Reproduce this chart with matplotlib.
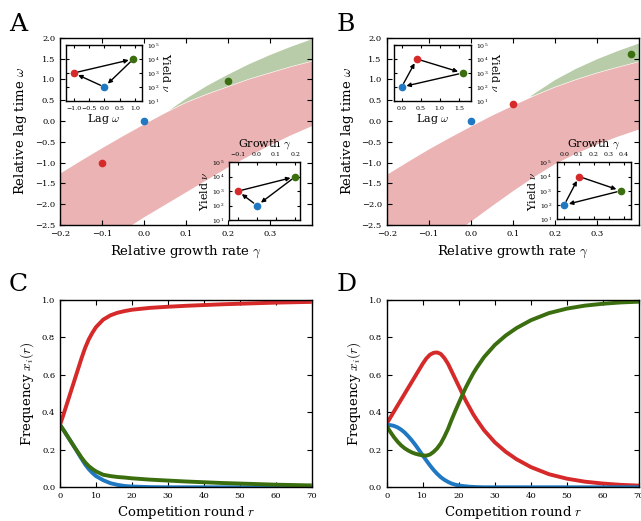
import numpy as np
import matplotlib
matplotlib.use('Agg')
import matplotlib.pyplot as plt

plt.rcParams['font.family'] = 'DejaVu Serif'
plt.rcParams['mathtext.fontset'] = 'cm'
plt.rcParams['xtick.direction'] = 'in'
plt.rcParams['ytick.direction'] = 'in'
plt.rcParams['xtick.top'] = True
plt.rcParams['ytick.right'] = True
plt.rcParams['axes.linewidth'] = 1.0

RED = '#d62a2a'
BLUE = '#1f78c1'
GREEN = '#3b6e0f'
PINK_FILL = '#ebb3b3'
GREEN_FILL = '#b9cca9'

# ---- panel A data ----
a_gamma = [-0.1, 0.0, 0.2]          # red, blue, green
a_omega = [-1.0, 0.0, 0.95]
a_yield = [1e3, 1e2, 1e4]

a_band_x = [-0.2, -0.15, -0.1, -0.05, 0.0, 0.05, 0.1, 0.15, 0.2, 0.25, 0.3, 0.35, 0.4]
a_band_top = [-1.25, -0.94, -0.64, -0.35, -0.07, 0.2, 0.45, 0.65, 0.83, 1.01, 1.16, 1.31, 1.44]
a_band_bot = [-3.6, -3.3, -2.95, -2.62, -2.3, -2.0, -1.7, -1.4, -1.1, -0.83, -0.57, -0.33, -0.11]
a_green_x = [0.06, 0.1, 0.15, 0.2, 0.25, 0.3, 0.35, 0.4]
a_green_top = [0.25, 0.53, 0.84, 1.11, 1.36, 1.58, 1.78, 1.96]

# ---- panel B data ----
b_gamma = [0.1, 0.0, 0.38]
b_omega = [0.4, 0.0, 1.6]
b_yield = [1e4, 1e2, 1e3]

b_band_x = [-0.2, -0.15, -0.1, -0.05, 0.0, 0.05, 0.1, 0.15, 0.2, 0.25, 0.3, 0.35, 0.4]
b_band_top = [-1.28, -0.97, -0.67, -0.39, -0.12, 0.14, 0.38, 0.61, 0.82, 1.0, 1.16, 1.3, 1.43]
b_band_bot = [-3.9, -3.5, -3.12, -2.76, -2.4, -2.03, -1.67, -1.33, -1.02, -0.77, -0.55, -0.36, -0.19]
b_green_x = [0.14, 0.2, 0.25, 0.3, 0.35, 0.4]
b_green_top = [0.58, 0.98, 1.25, 1.48, 1.68, 1.86]

# arrows between strains (index: 0 red, 1 blue, 2 green)
arrows = [(1, 0), (0, 2), (2, 1)]
yield_ticks = [1e1, 1e2, 1e3, 1e4, 1e5]

# ---- panel C data ----
c_round = [0, 1, 2, 3, 4, 5, 6, 7, 8, 9, 10, 12, 14, 16, 18, 20, 25, 30, 35, 40, 45, 50, 55, 60, 65, 70]
c_red = [0.333, 0.39, 0.45, 0.51, 0.57, 0.63, 0.69, 0.745, 0.79, 0.825, 0.855, 0.895, 0.918, 0.932,
         0.941, 0.948, 0.958, 0.964, 0.969, 0.973, 0.977, 0.980, 0.983, 0.986, 0.988, 0.990]
c_blue = [0.333, 0.305, 0.275, 0.245, 0.215, 0.183, 0.152, 0.122, 0.097, 0.077, 0.06, 0.038, 0.022,
          0.013, 0.007, 0.004, 0.001, 0.0, 0.0, 0.0, 0.0, 0.0, 0.0, 0.0, 0.0, 0.0]
c_green = [0.334, 0.305, 0.275, 0.245, 0.215, 0.187, 0.158, 0.133, 0.113, 0.098, 0.085, 0.067, 0.06,
           0.055, 0.052, 0.048, 0.041, 0.036, 0.031, 0.027, 0.023, 0.02, 0.017, 0.014, 0.012, 0.01]

# ---- panel D data ----
d_round = [0, 1, 2, 3, 4, 5, 6, 7, 8, 9, 10, 11, 12, 13, 14, 15, 16, 17, 18, 19, 20, 21, 22, 23,
           24, 25, 27, 30, 33, 36, 40, 45, 50, 55, 60, 65, 70]
d_red = [0.34, 0.372, 0.404, 0.436, 0.468, 0.5, 0.532, 0.564, 0.596, 0.628, 0.66, 0.688, 0.708,
         0.718, 0.72, 0.712, 0.69, 0.66, 0.62, 0.58, 0.54, 0.5, 0.46, 0.425, 0.39, 0.36, 0.305,
         0.24, 0.19, 0.15, 0.108, 0.07, 0.046, 0.03, 0.02, 0.013, 0.009]
d_blue = [0.333, 0.332, 0.328, 0.32, 0.308, 0.292, 0.272, 0.25, 0.225, 0.198, 0.17, 0.143, 0.117,
          0.093, 0.072, 0.054, 0.04, 0.029, 0.02, 0.014, 0.01, 0.007, 0.005, 0.003, 0.002, 0.001,
          0.0, 0.0, 0.0, 0.0, 0.0, 0.0, 0.0, 0.0, 0.0, 0.0, 0.0]
d_green = [0.327, 0.296, 0.268, 0.244, 0.224, 0.208, 0.196, 0.186, 0.179, 0.174, 0.17, 0.169, 0.175,
           0.189, 0.208, 0.234, 0.27, 0.311, 0.36, 0.406, 0.45, 0.493, 0.535, 0.572, 0.608, 0.639,
           0.695, 0.76, 0.81, 0.85, 0.892, 0.93, 0.954, 0.97, 0.98, 0.987, 0.991]

colors = [RED, BLUE, GREEN]

W, H = 641, 521
fig = plt.figure(figsize=(W / 100, H / 100), dpi=100)


def px_axes(l, t, r, b):
    return fig.add_axes([l / W, 1 - b / H, (r - l) / W, (b - t) / H])


def draw_arrows(ax, xs, ys):
    for i, j in arrows:
        ax.annotate('', xy=(xs[j], ys[j]), xytext=(xs[i], ys[i]),
                    arrowprops=dict(arrowstyle='-|>', color='k', lw=1.0,
                                    mutation_scale=6, shrinkA=3, shrinkB=3.5))


def main_panel(ax, bx, btop, bbot, gx, gtop, gam, om):
    # green wedge: along its own upper edge, back along the pink band's upper edge
    gpoly_x = list(gx) + [x for x in bx[::-1] if x >= gx[0]]
    gpoly_y = list(gtop) + [y for x, y in zip(bx[::-1], btop[::-1]) if x >= gx[0]]
    ax.fill(gpoly_x, gpoly_y, color=GREEN_FILL, lw=0)
    ax.fill_between(bx, bbot, btop, color=PINK_FILL, lw=0)
    for x, y, c in zip(gam, om, colors):
        ax.plot(x, y, 'o', color=c, ms=4.5, mec=c)
    ax.set_xlim(-0.2, 0.4)
    ax.set_ylim(-2.5, 2.0)
    ax.set_xticks([-0.2, -0.1, 0.0, 0.1, 0.2, 0.3])
    ax.set_yticks(np.arange(-2.5, 2.01, 0.5))
    ax.tick_params(labelsize=6)
    ax.set_xlabel(r'Relative growth rate $\gamma$', fontsize=9.5)
    ax.set_ylabel(r'Relative lag time $\omega$', fontsize=9.5)


def inset_common(ax, xs, yl, xlim, xticks):
    draw_arrows(ax, xs, yl)
    for x, y, c in zip(xs, yl, colors):
        ax.plot(x, y, 'o', color=c, ms=4.5, mec=c, zorder=3)
    ax.set_yscale('log')
    ax.set_ylim(1e1, 1e5)
    ax.set_yticks(yield_ticks)
    ax.set_xlim(*xlim)
    ax.set_xticks(xticks)
    ax.tick_params(which='both', labelsize=4.5, length=2.5)
    ax.tick_params(which='minor', length=1.5)


def lag_inset(ax, om, yl, xlim, xticks):
    inset_common(ax, om, yl, xlim, xticks)
    ax.yaxis.tick_right()
    ax.tick_params(axis='y', which='both', left=True, right=True)
    ax.yaxis.set_label_position('right')
    ax.set_ylabel(r'Yield $\nu$', fontsize=8, rotation=270, labelpad=9)
    ax.set_xlabel(r'Lag $\omega$', fontsize=8, labelpad=1)


def growth_inset(ax, gam, yl, xlim, xticks):
    inset_common(ax, gam, yl, xlim, xticks)
    ax.xaxis.tick_top()
    ax.tick_params(axis='x', which='both', bottom=True, top=True)
    ax.xaxis.set_label_position('top')
    ax.set_xlabel(r'Growth $\gamma$', fontsize=8, labelpad=4)
    ax.set_ylabel(r'Yield $\nu$', fontsize=8, labelpad=1)


axA = px_axes(60, 37.7, 311.7, 225)
main_panel(axA, a_band_x, a_band_top, a_band_bot, a_green_x, a_green_top, a_gamma, a_omega)
axB = px_axes(386.7, 37.7, 639, 225)
main_panel(axB, b_band_x, b_band_top, b_band_bot, b_green_x, b_green_top, b_gamma, b_omega)

inA1 = px_axes(66, 45, 141.7, 101)
lag_inset(inA1, a_omega, a_yield, (-1.25, 1.22), [-1.0, -0.5, 0.0, 0.5, 1.0])
inA2 = px_axes(229.3, 162.3, 300, 220)
growth_inset(inA2, a_gamma, a_yield, (-0.145, 0.225), [-0.1, 0.0, 0.1, 0.2])
inB1 = px_axes(394, 45, 470.7, 101)
lag_inset(inB1, b_omega, b_yield, (-0.2, 1.81), [0.0, 0.5, 1.0, 1.5])
inB2 = px_axes(556.7, 162.3, 630.7, 219.3)
growth_inset(inB2, b_gamma, b_yield, (-0.05, 0.445), [0.0, 0.1, 0.2, 0.3, 0.4])


def freq_panel(ax, r, series):
    for ys, c in zip(series, colors):
        ax.plot(r, ys, color=c, lw=2.8, solid_capstyle='butt')
    ax.set_xlim(0, 70)
    ax.set_ylim(0, 1.0)
    ax.set_xticks(range(0, 71, 10))
    ax.set_yticks(np.arange(0, 1.01, 0.2))
    ax.tick_params(labelsize=6)
    ax.set_xlabel(r'Competition round $r$', fontsize=9.5, labelpad=3)
    ax.set_ylabel(r'Frequency $x_i(r)$', fontsize=9.5)


axC = px_axes(60, 300, 311.7, 487.3)
freq_panel(axC, c_round, [c_red, c_blue, c_green])
axD = px_axes(386.7, 300, 639, 487.3)
freq_panel(axD, d_round, [d_red, d_blue, d_green])

for letter, x, y in [('A', 9, 31), ('B', 337, 31), ('C', 9, 291), ('D', 337, 291)]:
    fig.text(x / W, 1 - y / H, letter, fontsize=18, va='baseline', ha='left')

fig.savefig('out.png', dpi=100)
